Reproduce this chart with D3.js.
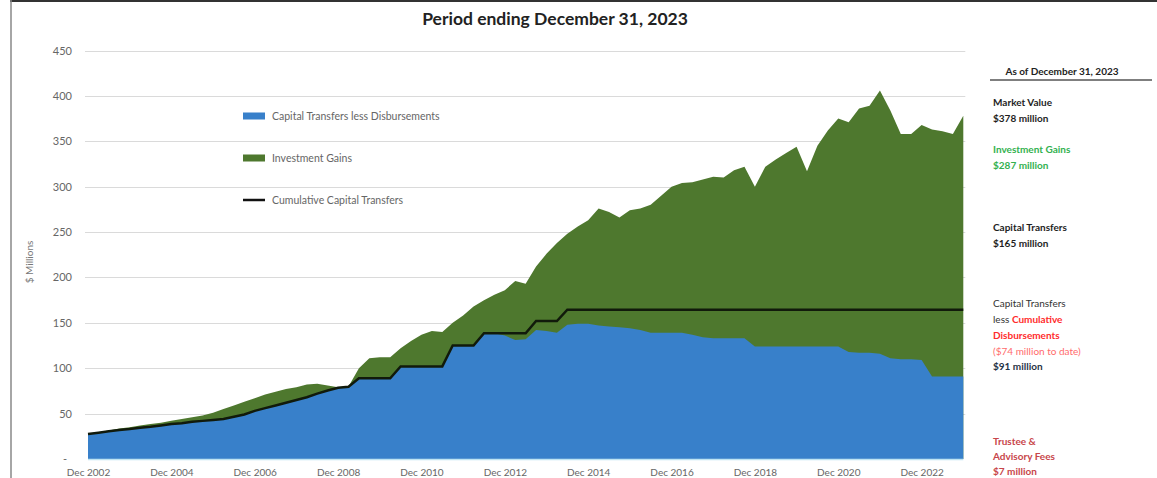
<!DOCTYPE html>
<html>
<head>
<meta charset="utf-8">
<script src="https://cdn.jsdelivr.net/npm/d3@7"></script>
<style>
  body { margin: 0; background: #fff; }
  text { font-family: Lato, "Open Sans", sans-serif; }
</style>
</head>
<body>
<script>
// quarterly values, Dec 2002 to Dec 2023 ($ millions)
var marketValue = [
  27.5, 29.5, 31.5, 33.5, 35, 37, 38.5, 40, 42, 44,
  46, 48, 51, 55, 59, 63, 67, 71, 74, 77,
  79, 82, 83, 81, 79, 80, 100, 111, 112, 112,
  122, 130, 137, 141, 140, 150, 158, 168, 175, 181,
  186, 196, 193, 212, 226, 238, 248, 256, 263, 276,
  272, 266, 274, 276, 280, 290, 300, 304, 305, 308,
  311, 310, 318, 322, 300, 322, 330, 337, 344, 317,
  345, 362, 375, 371, 386, 389, 406, 384, 358, 358,
  368, 363, 361, 358, 378
];

var cumTransfers = [
  27.5, 29, 30.5, 32, 33, 34.5, 35.5, 37, 38.5, 39.5,
  41, 42, 43, 44, 46.5, 49, 53, 56, 59, 62,
  65, 68, 72, 75.5, 78.5, 79.5, 89, 89, 89, 89,
  102, 102, 102, 102, 102, 125, 125, 125, 138.5, 138.5,
  138.5, 138.5, 138.5, 152, 152, 152, 164.5, 164.5, 164.5, 164.5,
  164.5, 164.5, 164.5, 164.5, 164.5, 164.5, 164.5, 164.5, 164.5, 164.5,
  164.5, 164.5, 164.5, 164.5, 164.5, 164.5, 164.5, 164.5, 164.5, 164.5,
  164.5, 164.5, 164.5, 164.5, 164.5, 164.5, 164.5, 164.5, 164.5, 164.5,
  164.5, 164.5, 164.5, 164.5, 164.5
];

var netTransfers = [
  27.5, 29, 30.5, 32, 33, 34.5, 35.5, 37, 38.5, 39.5,
  41, 42, 43, 44, 46.5, 49, 53, 56, 59, 62,
  65, 68, 72, 75.5, 78.5, 79.5, 89, 89, 89, 89,
  102, 102, 102, 102, 102, 125, 125, 125, 138.5, 138.5,
  136, 131, 132, 142, 141, 139, 148, 149, 149, 147,
  146, 145, 144, 142, 139, 139, 139, 139, 137, 134,
  133, 133, 133, 133, 124, 124, 124, 124, 124, 124,
  124, 124, 124, 118, 117, 117, 116, 111, 110, 110,
  109, 91, 91, 91, 91
];

var xTickLabels = ["Dec 2002", "Dec 2004", "Dec 2006", "Dec 2008", "Dec 2010",
  "Dec 2012", "Dec 2014", "Dec 2016", "Dec 2018", "Dec 2020", "Dec 2022"];
var yTicks = [0, 50, 100, 150, 200, 250, 300, 350, 400, 450];
var legendLabels = ["Capital Transfers less Disbursements", "Investment Gains", "Cumulative Capital Transfers"];

// dimensions chart
var width = 1157;
var height = 478;
var plotLeft = 88;
var plotRight = 963.3;
var plotBottom = 459;
var plotTop = 50.5;

var blue = "#3880ca";
var green = "#4e782e";

var svg = d3.select("body")
  .append("svg")
  .attr("width", width)
  .attr("height", height)
  .style("background", "#fff");

var xScale = d3.scaleLinear()
  .domain([0, marketValue.length - 1])
  .range([plotLeft, plotRight]);

var yScale = d3.scaleLinear()
  .domain([0, 450])
  .range([plotBottom, plotTop]);

// frame
svg.append("line")
  .attr("x1", 10).attr("x2", width).attr("y1", 1).attr("y2", 1)
  .attr("stroke", "#333").attr("stroke-width", 2);
svg.append("line")
  .attr("x1", 11).attr("x2", 11).attr("y1", 0).attr("y2", height)
  .attr("stroke", "#888").attr("stroke-width", 1.5);

// title
svg.append("text")
  .attr("x", 555)
  .attr("y", 25)
  .attr("text-anchor", "middle")
  .attr("font-size", 17.5)
  .attr("font-weight", "bold")
  .attr("fill", "#222")
  .text("Period ending December 31, 2023");

// gridlines
svg.append("g")
  .selectAll("line")
  .data(yTicks.slice(1))
  .enter()
  .append("line")
  .attr("x1", plotLeft - 3)
  .attr("x2", plotRight + 2)
  .attr("y1", function(d) { return Math.round(yScale(d)) + 0.5; })
  .attr("y2", function(d) { return Math.round(yScale(d)) + 0.5; })
  .attr("stroke", "#dadada");

// areas
var area = d3.area()
  .x(function(d, i) { return xScale(i); })
  .y0(yScale(0))
  .y1(function(d) { return yScale(d); });

svg.append("path")
  .datum(marketValue)
  .attr("d", area)
  .attr("fill", green);

svg.append("path")
  .datum(netTransfers)
  .attr("d", area)
  .attr("fill", blue);

// baseline
svg.append("line")
  .attr("x1", plotLeft).attr("x2", plotRight)
  .attr("y1", plotBottom + 0.5).attr("y2", plotBottom + 0.5)
  .attr("stroke", "#bfe4f2").attr("stroke-width", 1.5);

// cumulative line
var line = d3.line()
  .x(function(d, i) { return xScale(i); })
  .y(function(d) { return yScale(d); });

svg.append("path")
  .datum(cumTransfers)
  .attr("d", line)
  .attr("fill", "none")
  .attr("stroke", "#111a0b")
  .attr("stroke-width", 2.5);

// y-as
var yAxis = d3.axisLeft(yScale)
  .tickValues(yTicks)
  .tickSize(0)
  .tickPadding(0)
  .tickFormat(function(d) { return d === 0 ? "-" : d; });

var yG = svg.append("g")
  .attr("transform", "translate(" + [72, 0] + ")")
  .call(yAxis);
yG.select(".domain").remove();
yG.selectAll("text")
  .attr("font-size", 11)
  .attr("font-family", "Lato, sans-serif")
  .attr("fill", "#666")
  .attr("dx", function(d) { return d === 0 ? -5 : 0; });

// x-as
var xAxis = d3.axisBottom(xScale)
  .tickValues(xTickLabels.map(function(d, i) { return i * 8; }))
  .tickSize(0)
  .tickPadding(0)
  .tickFormat(function(d) { return xTickLabels[d / 8]; });

var xG = svg.append("g")
  .attr("transform", "translate(" + [0, 469] + ")")
  .call(xAxis);
xG.select(".domain").remove();
xG.selectAll("text")
  .attr("font-size", 10)
  .attr("font-family", "Lato, sans-serif")
  .attr("fill", "#666");

// label $ Millions
svg.append("text")
  .attr("text-anchor", "middle")
  .attr("transform", "translate(" + [33, 262] + ") rotate(-90)")
  .attr("font-size", 10)
  .attr("fill", "#777")
  .text("$ Millions");

// legend
var legend = svg.selectAll(".legend")
  .data(legendLabels)
  .enter()
  .append("g")
  .attr("class", "legend")
  .attr("transform", function(d, i) { return "translate(" + [243, 116 + i * 42] + ")"; });

legend.each(function(d, i) {
  var g = d3.select(this);
  if (i < 2) {
    g.append("rect")
      .attr("x", 0).attr("y", -3.5)
      .attr("width", 22).attr("height", 7)
      .attr("fill", i === 0 ? blue : green);
  } else {
    g.append("line")
      .attr("x1", 0).attr("x2", 22)
      .attr("stroke", "#111").attr("stroke-width", 2.5);
  }
});

legend.append("text")
  .attr("x", 29)
  .attr("y", 4)
  .attr("font-size", 10.5)
  .attr("fill", "#666")
  .text(function(d) { return d; });

// side panel
var px = 993;
svg.append("text")
  .attr("x", 1062).attr("y", 75)
  .attr("text-anchor", "middle")
  .attr("font-size", 10).attr("font-weight", "bold").attr("fill", "#222")
  .text("As of December 31, 2023");
svg.append("line")
  .attr("x1", 990).attr("x2", 1152).attr("y1", 80).attr("y2", 80)
  .attr("stroke", "#555").attr("stroke-width", 1.5);

function note(y, txt, color, weight) {
  return svg.append("text")
    .attr("x", px).attr("y", y)
    .attr("font-size", 10)
    .attr("font-weight", weight || "bold")
    .attr("fill", color)
    .text(txt);
}

note(106, "Market Value", "#1e1e1e");
note(122, "$378 million", "#1e1e1e");
note(153, "Investment Gains", "#33b14f");
note(169, "$287 million", "#33b14f");
note(231, "Capital Transfers", "#1e1e1e");
note(247, "$165 million", "#1e1e1e");
note(307, "Capital Transfers", "#333", "normal");
var lessLine = note(323, "", "#333");
lessLine.append("tspan").attr("fill", "#333").attr("font-weight", "normal").text("less ");
lessLine.append("tspan").attr("fill", "#ff2b2b").text("Cumulative");
note(339, "Disbursements", "#ff2b2b");
note(355, "($74 million to date)", "#ff6b6b", "normal");
note(370, "$91 million", "#1f3346");
note(445, "Trustee &", "#c8454a");
note(460, "Advisory Fees", "#c8454a");
note(475, "$7 million", "#c8454a");
</script>
</body>
</html>
